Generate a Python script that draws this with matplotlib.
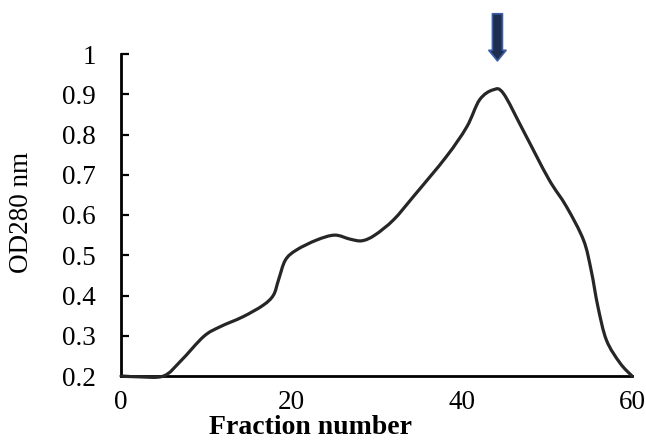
import numpy as np
import matplotlib
matplotlib.use("Agg")
import matplotlib.pyplot as plt
from matplotlib.path import Path
from matplotlib.patches import PathPatch

# Data
fraction = [0, 2, 5, 7, 9.7, 11.6, 14.3, 16.7, 17.9, 18.5, 19.3, 20.6, 23, 25.1, 26.9, 28.3, 29.8,
            32, 34.3, 38.2, 40.6, 42.1, 43.7, 44.9, 47.2, 50.2, 52.3, 54.3, 55.2, 56.0, 57.0, 58.6, 60]
od280 = [0.200, 0.198, 0.200, 0.237, 0.298, 0.322, 0.347, 0.376, 0.401, 0.439, 0.488, 0.513, 0.538, 0.550,
         0.540, 0.536, 0.550, 0.588, 0.645, 0.745, 0.819, 0.886, 0.911, 0.902, 0.811, 0.690, 0.621, 0.538,
         0.463, 0.372, 0.289, 0.232, 0.200]
xticks = [0, 20, 40, 60]
yticks = [0.2, 0.3, 0.4, 0.5, 0.6, 0.7, 0.8, 0.9, 1.0]
ytick_labels = ["0.2", "0.3", "0.4", "0.5", "0.6", "0.7", "0.8", "0.9", "1"]
peak_fraction = 44.2

plt.rcParams['font.family'] = ['Liberation Serif', 'DejaVu Serif']

fig = plt.figure(figsize=(6.46, 4.41), dpi=100)
ax = fig.add_axes([121/646, 1-376/441, (632-121)/646, (376-54)/441])


def smooth_path(xs, ys):
    pts = np.column_stack([xs, ys]).astype(float)
    n = len(pts)
    verts = [pts[0]]
    codes = [Path.MOVETO]
    for i in range(n - 1):
        p0 = pts[i - 1] if i > 0 else pts[i]
        p1 = pts[i]
        p2 = pts[i + 1]
        p3 = pts[i + 2] if i + 2 < n else pts[i + 1]
        c1 = p1 + (p2 - p0) / 6.0
        c2 = p2 - (p3 - p1) / 6.0
        verts += [c1, c2, p2]
        codes += [Path.CURVE4] * 3
    return Path(verts, codes)


# invisible line for autoscale/data limits
ax.plot(fraction, od280, alpha=0)
patch = PathPatch(smooth_path(fraction, od280), facecolor='none', edgecolor='#262626',
                  lw=2.3, capstyle='round', joinstyle='round', clip_on=False, zorder=3)
ax.add_patch(patch)

ax.set_xlim(0, 60)
ax.set_ylim(0.2, 1.0)
ax.set_xticks(xticks)
ax.set_yticks(yticks)
ax.set_yticklabels(ytick_labels)

for s in ['top', 'right']:
    ax.spines[s].set_visible(False)
for s in ['left', 'bottom']:
    ax.spines[s].set_linewidth(2.0)
    ax.spines[s].set_color('black')

ax.tick_params(axis='y', direction='in', length=6, width=1.6, labelsize=19.5, pad=18)
ax.tick_params(axis='x', length=0, labelsize=19.5, pad=10)

ax.text((22 - 121) / 511, 1 - (212 - 54) / 322, 'OD280 nm', transform=ax.transAxes,
        rotation=90, ha='center', va='center', fontsize=19.5)
ax.text(22.3, -(428 - 376) / 322, 'Fraction number', transform=ax.get_xaxis_transform(),
        ha='center', va='center', fontsize=20, fontweight='bold')

ax.annotate('', xy=(peak_fraction, 0.983), xytext=(peak_fraction, 1.10),
            arrowprops=dict(arrowstyle='simple,head_length=0.38,head_width=0.62,tail_width=0.36',
                            fc='#1f2d50', ec='#3a5fa8', lw=1.2, mutation_scale=20,
                            shrinkA=0, shrinkB=0),
            annotation_clip=False)

fig.savefig('out.png', dpi=100)
